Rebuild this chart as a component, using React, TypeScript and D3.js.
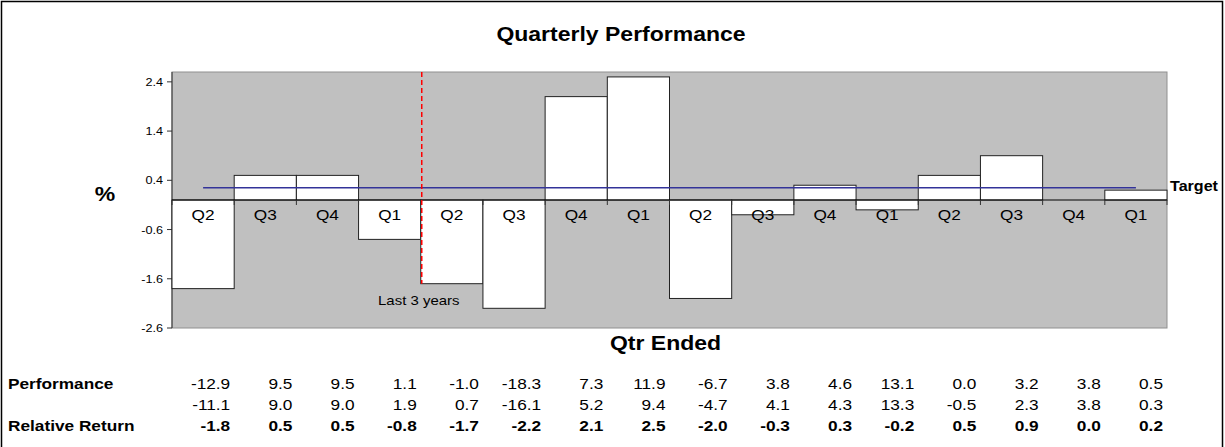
import React, { useEffect } from "react";
import * as d3 from "d3";

// quarter labels along the x axis
const quarters = ["Q2", "Q3", "Q4", "Q1", "Q2", "Q3", "Q4", "Q1", "Q2", "Q3", "Q4", "Q1", "Q2", "Q3", "Q4", "Q1"];
// fund performance (%)
const performance = [-12.9, 9.5, 9.5, 1.1, -1.0, -18.3, 7.3, 11.9, -6.7, 3.8, 4.6, 13.1, 0.0, 3.2, 3.8, 0.5];
// benchmark row (no label in the table)
const benchmark = [-11.1, 9.0, 9.0, 1.9, 0.7, -16.1, 5.2, 9.4, -4.7, 4.1, 4.3, 13.3, -0.5, 2.3, 3.8, 0.3];
// relative return = the bars
const relativeReturn = [-1.8, 0.5, 0.5, -0.8, -1.7, -2.2, 2.1, 2.5, -2.0, -0.3, 0.3, -0.2, 0.5, 0.9, 0.0, 0.2];
const targetValue = 0.25;
const yTicks = [-2.6, -1.6, -0.6, 0.4, 1.4, 2.4];
const yDomain = [-2.6, 2.6];
const lastThreeYearsIndex = 4;

const FONT = "'Liberation Sans', Arial, sans-serif";
// the original text is slightly wide, stretch it horizontally
const SX = 1.15;

const fmt = (v: number) => v.toFixed(1);

type TProps = {
  x: number;
  y: number;
  size: number;
  anchor?: "start" | "middle" | "end";
  bold?: boolean;
  children: React.ReactNode;
};

const T = ({ x, y, size, anchor = "start", bold = false, children }: TProps) => (
  <text transform={`translate(${x},${y}) scale(${SX},1)`} textAnchor={anchor}
    fontSize={size} fontWeight={bold ? "bold" : "normal"} fill="#000">{children}</text>
);

const App = () => {
  useEffect(() => {
    document.body.style.margin = "0";
  }, []);

  const W = 1225;
  const H = 447;
  const plot = { left: 172, right: 1167, top: 72, bottom: 328 };

  const idx = quarters.map((_, i) => String(i));
  const x = d3.scaleBand<string>().domain(idx).range([plot.left, plot.right]).padding(0);
  const y = d3.scaleLinear().domain(yDomain).range([plot.bottom, plot.top]);
  const bw = x.bandwidth();
  const y0 = y(0);

  const targetLine = d3.line<number>()
    .x((_, i) => (x(String(i)) as number) + bw / 2)
    .y(() => y(targetValue));

  const rows = [
    { label: "Performance", values: performance, bold: false, yPos: 389 },
    { label: "", values: benchmark, bold: false, yPos: 410 },
    { label: "Relative Return", values: relativeReturn, bold: true, yPos: 431 },
  ];

  const splitX = x(String(lastThreeYearsIndex)) as number;

  return (
    <svg width={W} height={H} style={{ display: "block", fontFamily: FONT }}>
      <rect x={0} y={0} width={W} height={H} fill="#fff" />
      <rect x={1.5} y={1.5} width={W - 4} height={H + 10} fill="none" stroke="#000" strokeWidth={1.5} />

      {/* title */}
      <T x={621} y={41} size={20} anchor="middle" bold>Quarterly Performance</T>

      {/* plot area */}
      <rect x={plot.left} y={plot.top} width={plot.right - plot.left} height={plot.bottom - plot.top}
        fill="#c0c0c0" stroke="#909090" strokeWidth={1} />

      {/* y axis */}
      <line x1={plot.left} x2={plot.left} y1={plot.top} y2={plot.bottom} stroke="#333" />
      {yTicks.map(t => (
        <g key={t}>
          <line x1={plot.left - 5} x2={plot.left} y1={y(t)} y2={y(t)} stroke="#333" />
          <T x={plot.left - 9} y={y(t) + 4} size={11} anchor="end">{fmt(t)}</T>
        </g>
      ))}
      <T x={105} y={201} size={20} anchor="middle" bold>%</T>

      {/* bars */}
      {relativeReturn.map((v, i) => (
        <rect key={i} x={x(String(i))} y={Math.min(y(v), y0)} width={bw}
          height={Math.abs(y(v) - y0)} fill="#fff" stroke="#222" strokeWidth={1} />
      ))}

      {/* zero axis with category ticks */}
      <line x1={plot.left} x2={plot.right} y1={y0} y2={y0} stroke="#000" />
      {idx.map(k => (
        <line key={k} x1={x(k)} x2={x(k)} y1={y0} y2={y0 + 5} stroke="#333" />
      ))}
      <line x1={plot.right} x2={plot.right} y1={y0} y2={y0 + 5} stroke="#333" />
      {quarters.map((q, i) => (
        <T key={i} x={(x(String(i)) as number) + bw / 2} y={220} size={15} anchor="middle">{q}</T>
      ))}

      {/* target */}
      <path d={targetLine(relativeReturn) || ""} fill="none" stroke="#333399" strokeWidth={1.5} />
      <T x={1170} y={191} size={14} bold>Target</T>

      {/* last 3 years marker */}
      <line x1={splitX + 1} x2={splitX + 1} y1={plot.top} y2={y(relativeReturn[lastThreeYearsIndex])}
        stroke="#ff0000" strokeWidth={1.5} strokeDasharray="5,3" />
      <T x={splitX - 2} y={305} size={13} anchor="middle">Last 3 years</T>

      <T x={(plot.left + plot.right) / 2 - 4} y={350} size={20} anchor="middle" bold>Qtr Ended</T>

      {/* table */}
      {rows.map((r, ri) => (
        <g key={ri}>
          {r.label && <T x={8} y={r.yPos} size={15} bold>{r.label}</T>}
          {r.values.map((v, i) => (
            <T key={i} x={(x(String(i)) as number) + bw - 4} y={r.yPos} size={15}
              anchor="end" bold={r.bold}>{fmt(v)}</T>
          ))}
        </g>
      ))}
    </svg>
  );
};

export default App;
